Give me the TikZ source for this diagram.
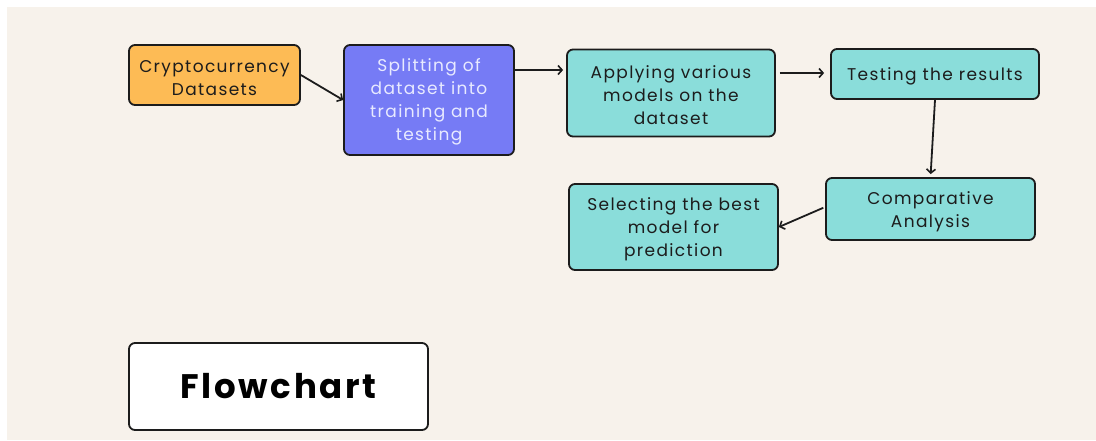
\documentclass[tikz,border=0pt]{standalone}
\usepackage{fontspec}
\setmainfont{Poppins}[LetterSpace=8]
\newfontfamily\titlefont{Poppins}[LetterSpace=8]
\usetikzlibrary{arrows.meta}
\definecolor{bg}{HTML}{F7F2EB}
\definecolor{orangebox}{HTML}{FDBB55}
\definecolor{bluebox}{HTML}{767BF5}
\definecolor{tealbox}{HTML}{8ADDDA}
\definecolor{ink}{HTML}{1C1C1C}
\definecolor{lighttext}{HTML}{E8EAFF}
\newcommand\tallrow{\rule{0pt}{17.5pt}}
\tikzset{
  box/.style={draw=ink, line width=1.8pt, rounded corners=6pt, align=center,
    font=\fontsize{17}{23}\selectfont, text=ink, inner sep=0pt},
  conn/.style={draw=ink, line width=1.8pt, -{Straight Barb[length=4pt,width=9pt,line width=1.6pt]}}
}
\begin{document}
\begin{tikzpicture}[x=1pt,y=-1pt]
\useasboundingbox (0,0) rectangle (1096,440);
\fill[white] (0,0) rectangle (1096,440);
\fill[bg] (7,7) rectangle (1096,440);

\node[box, fill=orangebox, minimum width=171pt, minimum height=60pt] (crypto) at (214.5,75) {\tallrow Cryptocurrency\\Datasets};
\node[box, fill=bluebox, text=lighttext, minimum width=170pt, minimum height=110pt] (split) at (429,100) {\tallrow Splitting of\\dataset into\\training and\\testing};
\node[box, fill=tealbox, minimum width=208pt, minimum height=87pt] (apply) at (671,93) {\tallrow Applying various\\models on the\\dataset};
\node[box, fill=tealbox, minimum width=208pt, minimum height=50pt] (test) at (935,74) {\tallrow Testing the results};
\node[box, fill=tealbox, minimum width=209pt, minimum height=62pt] (comp) at (930.5,209) {\tallrow Comparative\\Analysis};
\node[box, fill=tealbox, minimum width=209pt, minimum height=86pt] (select) at (673.5,227) {\tallrow Selecting the best\\model for\\prediction};
\node[box, fill=white, minimum width=299pt, minimum height=87pt,
  font=\titlefont\bfseries\fontsize{34}{40}\selectfont, text=black] (title) at (278.5,386.5) {Flowchart};

\draw[conn] (crypto.east) -- (split.west);
\draw[conn, shorten >=3pt] ([yshift=30pt]split.east) -- ([yshift=23pt]apply.west);
\draw[conn, shorten <=4pt, shorten >=6pt] ([yshift=20pt]apply.east) -- ([yshift=1pt]test.west);
\draw[conn, shorten >=3pt] (test.south) -- (comp.north);
\draw[conn, shorten <=2pt] ([yshift=2pt]comp.west) -- (select.east);
\end{tikzpicture}
\end{document}
